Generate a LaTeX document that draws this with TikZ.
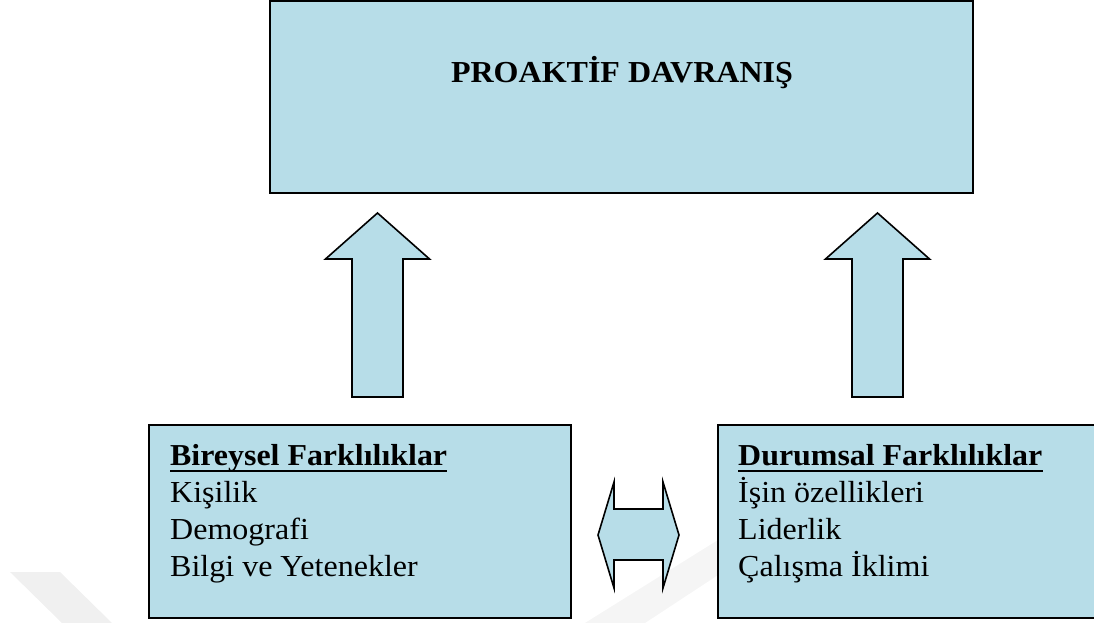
\documentclass[tikz,border=0pt]{standalone}
\usepackage{fontspec}
\setmainfont{Liberation Serif}[FakeStretch=1.05]
\definecolor{kutumavi}{RGB}{183,221,232}
\begin{document}
\begin{tikzpicture}[x=1pt,y=-1pt,line join=miter,
	kutu/.style={draw=black,line width=1.8pt,fill=kutumavi,inner sep=0pt},
	blokok/.style={draw=black,line width=1.6pt,fill=kutumavi},
	metin/.style={anchor=base west,inner sep=0pt,font=\fontsize{30.5}{36}\selectfont},
	baslik/.style={anchor=base west,inner sep=0pt,font=\fontsize{30.4}{36}\selectfont\bfseries}]
	\useasboundingbox (0,0) rectangle (1094,623);
	% filigran
	\fill[black!6] (10,572) -- (60,572) -- (112,623) -- (62,623) -- cycle;
	\fill[black!4] (585,623) -- (645,623) -- (718,575) -- (718,540) -- cycle;

	\node[kutu,minimum width=703pt,minimum height=192pt] (proaktif) at (621.5,97) {};
	\node[anchor=base,inner sep=0pt,font=\fontsize{30.5}{36}\selectfont\bfseries] (proaktifyazi) at (622,83) {PROAKTİF DAVRANIŞ};
	\node[kutu,minimum width=422pt,minimum height=193pt] (bireysel) at (360,521.5) {};
	\node[kutu,minimum width=382pt,minimum height=193pt] (durumsal) at (909,521.5) {};

	% bloklar
	\foreach \x in {377.5,877.5}
		\draw[blokok] (\x,213) -- ++(52,46) -- ++(-26.5,0) -- ++(0,138) -- ++(-51,0) -- ++(0,-138) -- ++(-26.5,0) -- cycle;
	\draw[blokok] (614,482) -- (614,509) -- (663,509) -- (663,482) -- (679,535) -- (663,588)
		-- (663,560) -- (614,560) -- (614,588) -- (598,535) -- cycle;

	\node[baslik] (b0) at (170,465) {Bireysel Farklılıklar};
	\node[baslik] (d0) at (738,465) {Durumsal Farklılıklar};
	\foreach \n in {b0,d0}
		\draw[line width=2.4pt] ([yshift=-6pt]\n.base west) -- ([yshift=-6pt]\n.base east);
	\foreach \t [count=\i] in {Kişilik,Demografi,Bilgi ve Yetenekler}
		\node[metin] (b\i) at (170,{465+37*\i}) {\t};
	\foreach \t [count=\i] in {İşin özellikleri,Liderlik,Çalışma İklimi}
		\node[metin] (d\i) at (738,{465+37*\i}) {\t};
\end{tikzpicture}
\end{document}
